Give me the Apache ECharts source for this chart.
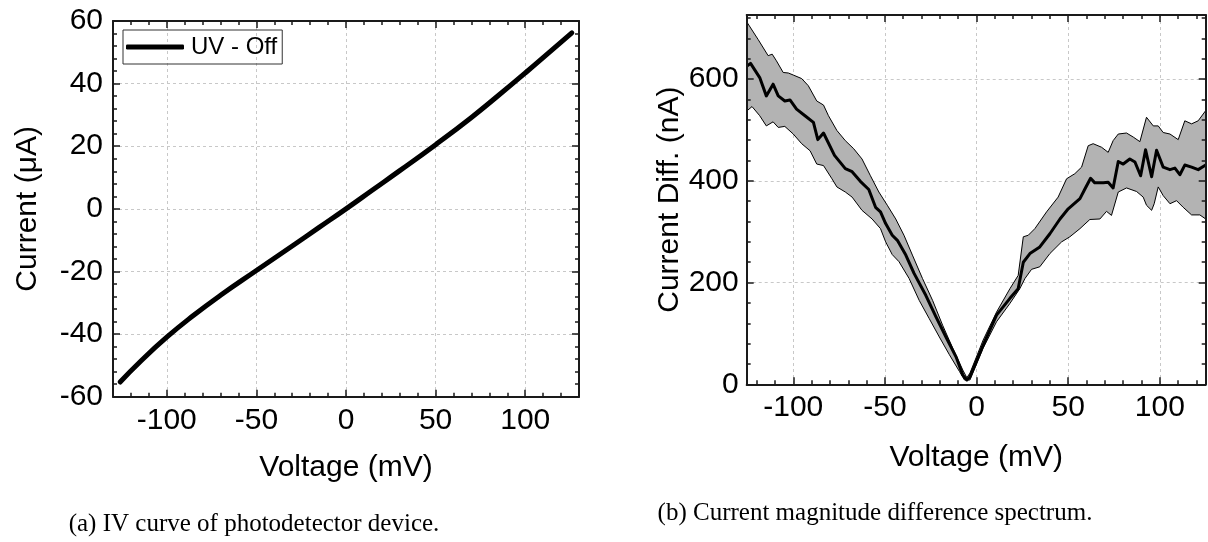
<!DOCTYPE html>
<html><head><meta charset="utf-8">
<script src="https://cdn.jsdelivr.net/npm/echarts@6/dist/echarts.min.js"></script>
<style>html,body{margin:0;padding:0;background:#fff}#c{width:1208px;height:542px}</style>
</head><body><div id="c"></div>
<script>
// ---------- Panel (a): IV curve ----------
const ivSeriesName = 'UV - Off';
const ivVoltage = [-126,-115,-100,-85,-70,-50,-30,-15,0,15,30,50,70,85,100,115,126];
const ivCurrent = [-55.3,-48.9,-41.0,-34.0,-27.6,-19.7,-11.85,-5.93,0,6.1,12.2,20.5,29.2,36.2,43.4,50.8,56.2];
const ivXMajor = [-100,-50,0,50,100];
const ivXMinor = [-120,-110,-90,-80,-70,-60,-40,-30,-20,-10,10,20,30,40,60,70,80,90,110,120];
const ivYMajor = [-60,-40,-20,0,20,40,60];
const ivYMinor = [-56,-52,-48,-44,-36,-32,-28,-24,-16,-12,-8,-4,4,8,12,16,24,28,32,36,44,48,52,56];

// ---------- Panel (b): current difference spectrum ----------
const diffMeanV = [-125.1,-123.3,-118.3,-114.7,-111,-108.2,-104.6,-101.8,-98.2,-93.6,-89,-86.6,-83.5,-77.5,-71.6,-67.9,-63.4,-58.8,-55.1,-52.4,-49.6,-46,-43.2,-38.6,-34.1,-27.7,-22.2,-16.7,-11.2,-7.5,-5.3,-3.6,3.6,10.9,18.2,22.7,25.5,29.1,34.5,40,45.5,50,56.4,59.1,62.2,64.5,69.1,71.8,74.5,77.3,80,83.6,86.4,89.5,92.2,95.5,98.2,101.8,105.5,108.2,110.9,113.6,117.3,120.9,125];
const diffMeanI = [626,631,603,567,590,567,557,559,541,528,515,481,494,450,424,418,399,383,348,339,316,293,283,254,218,175,133,93,54,18,8.5,15,77,136,169,188,240,257,270,296,325,345,365,384,405,396,396,397,386,438,433,443,437,410,461,408,460,427,422,425,412,431,427,422,431];
const diffUpperV = [-125.1,-119.2,-113.7,-111.5,-109.2,-105.5,-102.7,-100,-95.4,-91.8,-87.2,-83.5,-80.8,-76.2,-71.6,-67,-62.5,-57.9,-53.3,-48.7,-44.1,-39.6,-35,-29.5,-24,-18.5,-13,-7.5,-5.3,-3.6,3.6,10.9,18.2,22.7,25.5,28.2,31.8,38.2,44.5,49.1,53.6,57.3,60.9,63.6,68.2,71.8,74.5,77.3,81.8,85.5,89.1,92.7,96.4,99.1,101.8,105.5,110,113.6,117.3,120.9,125];
const diffUpperI = [711,678,646,649,636,613,612,608,601,587,557,549,528,499,479,463,443,410,378,352,325,293,254,208,165,116,71,28,13,22,87,142,188,214,290,293,306,339,368,404,414,427,469,473,466,456,479,492,494,486,477,525,508,508,495,492,481,518,512,518,538];
const diffLowerV = [-125.1,-122.5,-118.3,-114.7,-111,-108.2,-104.6,-100,-95.4,-90.8,-87.2,-83.5,-78.9,-76.2,-71.6,-67.9,-62.5,-57,-52.4,-49.6,-46,-42.3,-36.8,-31.3,-25.8,-20.3,-14.8,-9.3,-6.6,-3.6,3.6,10.9,18.2,23.6,26.4,30,34.5,40,46.4,50.9,56.4,61.8,67.3,70.9,73.6,77.3,81.8,87.3,90.9,92.7,95.5,96.9,99.1,101.8,105.5,109.1,112.7,117.3,121.8,125];
const diffLowerI = [538,546,528,508,516,505,507,492,473,459,433,430,404,388,378,368,342,325,306,280,255,241,208,165,129,93,58,25,8.5,8.5,71,123,159,188,208,226,231,257,280,290,306,324,325,340,332,378,386,379,368,352,342,355,388,371,355,361,348,333,333,325];
const diffXMajor = [-100,-50,0,50,100];
const diffXMinor = [-120,-110,-90,-80,-70,-60,-40,-30,-20,-10,10,20,30,40,60,70,80,90,110,120];
const diffYMajor = [0,200,400,600];
const diffYMinor = [40,80,120,160,240,280,320,360,440,480,520,560,640,680,720];

// ---------- Text ----------
const xTitle = 'Voltage (mV)';
const ivYTitle = 'Current (μA)';
const diffYTitle = 'Current Diff. (nA)';
const captionA = '(a) IV curve of photodetector device.';
const captionB = '(b) Current magnitude difference spectrum.';

const SANS = "'Liberation Sans', Arial, sans-serif";
const SERIF = "'Liberation Serif', 'Times New Roman', serif";
const AX = '#1a1a1a';

const xAxes = [], yAxes = [];
function addAxes(list, g, posMain, posMirror, min, max, major, minor, opt) {
  list.push({gridIndex:g, type:'value', position:posMain, min, max, z:0, silent:true,
    axisLine:{show:false, onZero:false}, axisTick:{show:false, customValues:major},
    axisLabel:{show:false, customValues:major},
    splitLine:{show:true, lineStyle:{color:'#c8c8c8', width:1, type:[3,3]}}});
  const mainIdx = list.length;
  list.push({gridIndex:g, type:'value', position:posMain, min, max, z:10,
    name:opt.name || '', nameLocation:'middle', nameGap:opt.nameGap || 0,
    nameTextStyle:{fontSize:30, color:'#000', fontFamily:SANS},
    axisLine:{show:true, onZero:false, lineStyle:{color:AX, width:2}},
    axisTick:{show:true, inside:true, length:7, customValues:major, lineStyle:{color:AX, width:1.5}},
    axisLabel:{show:true, customValues:major, margin:opt.margin, fontSize:30, color:'#000', fontFamily:SANS},
    splitLine:{show:false}});
  list.push({gridIndex:g, type:'value', position:posMain, min, max, z:10,
    axisLine:{show:false, onZero:false},
    axisTick:{show:true, inside:true, length:4, customValues:minor, lineStyle:{color:AX, width:1.5}},
    axisLabel:{show:false, customValues:minor}, splitLine:{show:false}});
  list.push({gridIndex:g, type:'value', position:posMirror, min, max, z:10,
    axisLine:{show:true, onZero:false, lineStyle:{color:AX, width:2}},
    axisTick:{show:true, inside:true, length:7, customValues:major, lineStyle:{color:AX, width:1.5}},
    axisLabel:{show:false, customValues:major}, splitLine:{show:false}});
  list.push({gridIndex:g, type:'value', position:posMirror, min, max, z:10,
    axisLine:{show:false, onZero:false},
    axisTick:{show:true, inside:true, length:4, customValues:minor, lineStyle:{color:AX, width:1.5}},
    axisLabel:{show:false, customValues:minor}, splitLine:{show:false}});
  return mainIdx;
}

const ivX = addAxes(xAxes, 0, 'bottom', 'top', -130, 130, ivXMajor, ivXMinor, {name:xTitle, nameGap:56, margin:9});
const ivY = addAxes(yAxes, 0, 'left', 'right', -60, 60, ivYMajor, ivYMinor, {name:ivYTitle, nameGap:70, margin:10});
const dX = addAxes(xAxes, 1, 'bottom', 'top', -125.4, 125, diffXMajor, diffXMinor, {name:xTitle, nameGap:58, margin:8});
const dY = addAxes(yAxes, 1, 'left', 'right', 0, 726, diffYMajor, diffYMinor, {name:diffYTitle, nameGap:61, margin:8});

const zip = (a, b) => a.map((v, i) => [v, b[i]]);

const chart = echarts.init(document.getElementById('c'), null, {renderer:'canvas'});
chart.setOption({
  animation:false,
  backgroundColor:'#fff',
  grid:[
    {left:113, top:21, right:629, bottom:145.3, containLabel:false},
    {left:746.7, top:15, right:2.3, bottom:157.7, containLabel:false}
  ],
  xAxis:xAxes,
  yAxis:yAxes,
  legend:{
    data:[ivSeriesName], left:123, top:30, orient:'horizontal',
    icon:'roundRect', itemWidth:58, itemHeight:5, itemGap:0,
    padding:[5,5,5,3], borderColor:'#333', borderWidth:1, borderRadius:0,
    textStyle:{fontSize:24, color:'#000', fontFamily:SANS, padding:[0,0,0,2]},
    itemStyle:{color:'#000'}, selectedMode:false
  },
  series:[
    {name:ivSeriesName, type:'line', xAxisIndex:ivX, yAxisIndex:ivY, data:zip(ivVoltage, ivCurrent),
     smooth:0.5, showSymbol:false, symbol:'none', z:5,
     lineStyle:{color:'#000', width:5, cap:'round', join:'round'}, itemStyle:{color:'#000'}},
    {name:'band', type:'custom', xAxisIndex:dX, yAxisIndex:dY, data:[[0,0]], z:3, silent:true,
     renderItem:function(params, api){
       const pts = [];
       for (let i = 0; i < diffUpperV.length; i++) pts.push(api.coord([diffUpperV[i], diffUpperI[i]]));
       for (let i = diffLowerV.length - 1; i >= 0; i--) pts.push(api.coord([diffLowerV[i], diffLowerI[i]]));
       return {type:'polygon', shape:{points:pts}, style:{fill:'#b3b3b3', stroke:'#000', lineWidth:1}};
     }},
    {name:'mean', type:'line', xAxisIndex:dX, yAxisIndex:dY, data:zip(diffMeanV, diffMeanI),
     showSymbol:false, symbol:'none', z:5,
     lineStyle:{color:'#000', width:3, join:'round'}}
  ],
  graphic:[
    {type:'text', x:254, y:524, style:{text:captionA, font:"25px " + SERIF, fill:'#000', textAlign:'center', textVerticalAlign:'middle'}},
    {type:'text', x:875, y:513, style:{text:captionB, font:"25px " + SERIF, fill:'#000', textAlign:'center', textVerticalAlign:'middle'}}
  ]
});
</script></body></html>
